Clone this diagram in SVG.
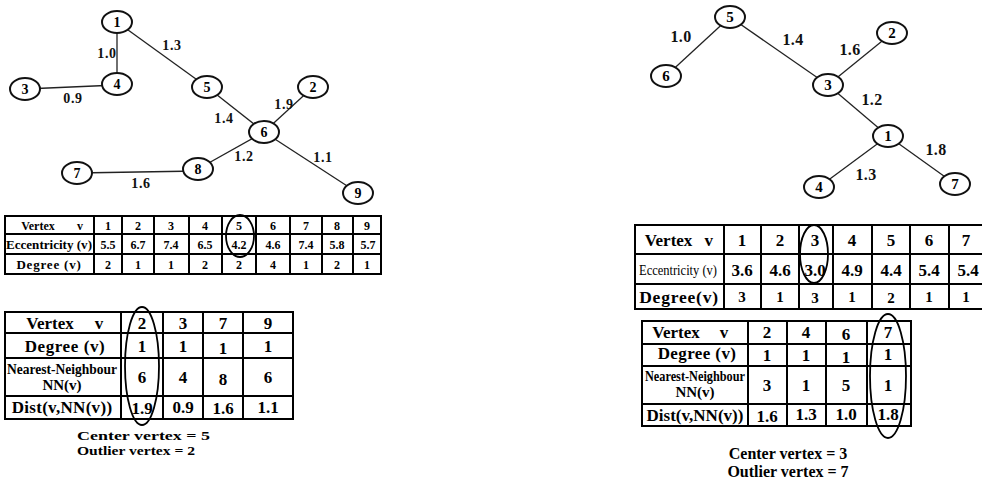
<svg xmlns="http://www.w3.org/2000/svg" width="982" height="483" viewBox="0 0 982 483">
<style>
  .bg{fill:#fff}
  .edge{stroke:#222;stroke-width:1.3;fill:none}
  .node ellipse{fill:#fff;stroke:#111;stroke-width:2}
  .nl{font-family:"Liberation Serif","Times New Roman",serif;font-weight:bold;fill:#000;text-anchor:middle}
  .el{font-family:"Liberation Serif","Times New Roman",serif;font-weight:bold;fill:#111;text-anchor:middle}
  .grid{stroke:#000;stroke-width:2;fill:none}
  .tt{font-family:"Liberation Serif","Times New Roman",serif;font-weight:bold;fill:#000;text-anchor:middle}
  .tn{font-family:"Liberation Serif","Times New Roman",serif;font-weight:normal;fill:#000;text-anchor:middle}
  .mark{fill:none;stroke:#000;stroke-width:1.8}
</style>
<rect class="bg" x="0" y="0" width="982" height="483"/>

<!-- ===== Left tree ===== -->
<g id="left-edges">
  <line class="edge" x1="117" y1="22" x2="117" y2="83"/>
  <line class="edge" x1="117" y1="22" x2="207" y2="87"/>
  <line class="edge" x1="25" y1="89" x2="117" y2="85"/>
  <line class="edge" x1="207" y1="87" x2="264" y2="132"/>
  <line class="edge" x1="313" y1="87" x2="264" y2="132"/>
  <line class="edge" x1="264" y1="132" x2="198" y2="169"/>
  <line class="edge" x1="264" y1="132" x2="358" y2="193"/>
  <line class="edge" x1="77" y1="173" x2="198" y2="171"/>
  <g class="el" font-size="14" letter-spacing="0.6">
    <text x="107" y="58">1.0</text>
    <text x="172" y="50">1.3</text>
    <text x="73" y="103">0.9</text>
    <text x="284" y="109">1.9</text>
    <text x="224" y="123">1.4</text>
    <text x="244" y="161">1.2</text>
    <text x="323" y="162">1.1</text>
    <text x="141" y="188">1.6</text>
  </g>
</g>
<g id="L1" class="node"><ellipse cx="117" cy="22" rx="15" ry="11"/><text class="nl" x="117" y="27" font-size="14">1</text></g>
<g id="L2" class="node"><ellipse cx="313" cy="87" rx="15" ry="11"/><text class="nl" x="313" y="92" font-size="14">2</text></g>
<g id="L3" class="node"><ellipse cx="25" cy="89" rx="15" ry="11"/><text class="nl" x="25" y="94" font-size="14">3</text></g>
<g id="L4" class="node"><ellipse cx="117" cy="84" rx="15" ry="11"/><text class="nl" x="117" y="89" font-size="14">4</text></g>
<g id="L5" class="node"><ellipse cx="207" cy="87" rx="15" ry="11"/><text class="nl" x="207" y="92" font-size="14">5</text></g>
<g id="L6" class="node"><ellipse cx="264" cy="132" rx="15" ry="11"/><text class="nl" x="264" y="137" font-size="14">6</text></g>
<g id="L7" class="node"><ellipse cx="77" cy="173" rx="15" ry="11"/><text class="nl" x="77" y="178" font-size="14">7</text></g>
<g id="L8" class="node"><ellipse cx="198" cy="169" rx="15" ry="11"/><text class="nl" x="198" y="174" font-size="14">8</text></g>
<g id="L9" class="node"><ellipse cx="358" cy="193" rx="15" ry="11"/><text class="nl" x="358" y="198" font-size="14">9</text></g>

<!-- ===== Left eccentricity table ===== -->
<g id="left-ecc-table">
  <rect class="grid" x="5" y="216" width="376" height="58"/>
  <path class="grid" d="M5 234H381M5 254H381M94 216V274M122 216V274M154 216V274M189 216V274M222 216V274M256 216V274M290 216V274M322 216V274M353 216V274"/>
  <g class="tt" font-size="12">
    <text x="38" y="230">Vertex</text><text x="80" y="230">v</text>
    <text x="49" y="249" font-size="12.5" textLength="86" lengthAdjust="spacingAndGlyphs">Eccentricity (v)</text>
    <text x="49" y="269" font-size="13" letter-spacing="0.8">Degree (v)</text>
    <text x="108" y="230">1</text><text x="138" y="230">2</text><text x="171" y="230">3</text><text x="205" y="230">4</text><text x="239" y="230">5</text><text x="273" y="230">6</text><text x="306" y="230">7</text><text x="337" y="230">8</text><text x="367" y="230">9</text>
    <text x="108" y="249">5.5</text><text x="138" y="249">6.7</text><text x="171" y="249">7.4</text><text x="205" y="249">6.5</text><text x="239" y="249">4.2</text><text x="273" y="249">4.6</text><text x="306" y="249">7.4</text><text x="337" y="249">5.8</text><text x="368" y="249">5.7</text>
    <text x="108" y="269">2</text><text x="138" y="269">1</text><text x="171" y="269">1</text><text x="205" y="269">2</text><text x="239" y="269">2</text><text x="273" y="269">4</text><text x="306" y="269">1</text><text x="337" y="269">2</text><text x="367" y="269">1</text>
  </g>
  <ellipse class="mark" cx="240" cy="236" rx="14" ry="21"/>
</g>

<!-- ===== Left nearest-neighbour table ===== -->
<g id="left-nn-table">
  <rect class="grid" x="5" y="312" width="288" height="107"/>
  <path class="grid" d="M5 333H293M5 358H293M5 396H293M121 312V419M163 312V419M203 312V419M243 312V419"/>
  <g class="tt" font-size="17">
    <text x="50" y="329">Vertex</text><text x="99" y="329">v</text>
    <text x="65" y="352" letter-spacing="0.6">Degree (v)</text>
    <text x="62" y="374" font-size="15" textLength="110" lengthAdjust="spacingAndGlyphs">Nearest-Neighbour</text>
    <text x="62" y="390" font-size="15">NN(v)</text>
    <text x="62" y="413" letter-spacing="0.3">Dist(v,NN(v))</text>
    <text x="142" y="329">2</text><text x="183" y="329">3</text><text x="223" y="329">7</text><text x="268" y="329">9</text>
    <text x="142" y="352">1</text><text x="183" y="352">1</text><text x="223" y="354">1</text><text x="268" y="352">1</text>
    <text x="142" y="383">6</text><text x="183" y="383">4</text><text x="223" y="385">8</text><text x="268" y="383">6</text>
    <text x="142" y="414">1.9</text><text x="183" y="413">0.9</text><text x="223" y="414">1.6</text><text x="268" y="413">1.1</text>
  </g>
  <ellipse class="mark" cx="142" cy="366" rx="17" ry="59"/>
</g>
<g id="left-summary" class="tt" font-size="13.5">
  <text x="77" y="440" text-anchor="start" textLength="133" lengthAdjust="spacingAndGlyphs">Center vertex = 5</text>
  <text x="77" y="455" text-anchor="start" textLength="118" lengthAdjust="spacingAndGlyphs">Outlier vertex = 2</text>
</g>

<!-- ===== Right tree ===== -->
<g id="right-edges">
  <line class="edge" x1="730" y1="17" x2="666" y2="76"/>
  <line class="edge" x1="730" y1="17" x2="828" y2="85"/>
  <line class="edge" x1="892" y1="33" x2="828" y2="85"/>
  <line class="edge" x1="828" y1="85" x2="888" y2="136"/>
  <line class="edge" x1="888" y1="136" x2="819" y2="187"/>
  <line class="edge" x1="888" y1="136" x2="955" y2="184"/>
  <g class="el" font-size="16" letter-spacing="0.3">
    <text x="681" y="42">1.0</text>
    <text x="793" y="45">1.4</text>
    <text x="850" y="55">1.6</text>
    <text x="872" y="105">1.2</text>
    <text x="936" y="155">1.8</text>
    <text x="866" y="180">1.3</text>
  </g>
</g>
<g id="R5" class="node"><ellipse cx="730" cy="17" rx="15" ry="11"/><text class="nl" x="730" y="22" font-size="15">5</text></g>
<g id="R6" class="node"><ellipse cx="666" cy="76" rx="15" ry="11"/><text class="nl" x="666" y="81" font-size="15">6</text></g>
<g id="R2" class="node"><ellipse cx="892" cy="33" rx="15" ry="11"/><text class="nl" x="892" y="38" font-size="15">2</text></g>
<g id="R3" class="node"><ellipse cx="828" cy="85" rx="15" ry="11"/><text class="nl" x="828" y="90" font-size="15">3</text></g>
<g id="R1" class="node"><ellipse cx="888" cy="136" rx="15" ry="11"/><text class="nl" x="888" y="141" font-size="15">1</text></g>
<g id="R4" class="node"><ellipse cx="819" cy="187" rx="15" ry="11"/><text class="nl" x="819" y="192" font-size="15">4</text></g>
<g id="R7" class="node"><ellipse cx="955" cy="184" rx="15" ry="11"/><text class="nl" x="955" y="189" font-size="15">7</text></g>

<!-- ===== Right eccentricity table ===== -->
<g id="right-ecc-table">
  <rect class="grid" x="635" y="225" width="360" height="84"/>
  <path class="grid" d="M635 254H995M635 284H995M724 225V309M761 225V309M799 225V309M833 225V309M872 225V309M910 225V309M949 225V309"/>
  <g class="tt" font-size="17">
    <text x="679" y="246" word-spacing="8">Vertex v</text>
    <text x="679" y="303" font-size="17.5" letter-spacing="0.8">Degree(v)</text>
    <text x="742" y="246">1</text><text x="780" y="246">2</text><text x="815" y="246">3</text><text x="852" y="246">4</text><text x="891" y="246">5</text><text x="929" y="246">6</text><text x="966" y="246">7</text>
    <text x="742" y="276">3.6</text><text x="780" y="276">4.6</text><text x="815" y="276">3.0</text><text x="852" y="276">4.9</text><text x="891" y="276">4.4</text><text x="929" y="276">5.4</text><text x="968" y="276">5.4</text>
    <text x="742" y="302" font-size="15">3</text><text x="780" y="302" font-size="15">1</text><text x="815" y="303" font-size="15">3</text><text x="852" y="302" font-size="15">1</text><text x="891" y="303" font-size="15">2</text><text x="929" y="302" font-size="15">1</text><text x="966" y="302" font-size="15">1</text>
  </g>
  <text class="tn" x="678" y="275" font-size="15" textLength="78" lengthAdjust="spacingAndGlyphs">Eccentricity (v)</text>
  <ellipse class="mark" cx="814" cy="254" rx="14" ry="29"/>
</g>

<!-- ===== Right nearest-neighbour table ===== -->
<g id="right-nn-table">
  <rect class="grid" x="642" y="321" width="269" height="105"/>
  <path class="grid" d="M642 344H911M642 366H911M642 404H911M748 321V426M787 321V426M826 321V426M867 321V426"/>
  <g class="tt" font-size="17">
    <text x="676" y="338">Vertex</text><text x="724" y="338">v</text>
    <text x="697" y="359" letter-spacing="0.4">Degree (v)</text>
    <text x="695" y="381" font-size="14" textLength="100" lengthAdjust="spacingAndGlyphs">Nearest-Neighbour</text>
    <text x="695" y="397" font-size="15">NN(v)</text>
    <text x="695" y="421">Dist(v,NN(v))</text>
    <text x="767" y="338">2</text><text x="806" y="338">4</text><text x="846" y="340">6</text><text x="888" y="338">7</text>
    <text x="767" y="361">1</text><text x="806" y="361">1</text><text x="846" y="363">1</text><text x="888" y="360">1</text>
    <text x="767" y="391">3</text><text x="806" y="391">1</text><text x="846" y="391">5</text><text x="888" y="391">1</text>
    <text x="767" y="422">1.6</text><text x="806" y="420">1.3</text><text x="846" y="420">1.0</text><text x="888" y="420">1.8</text>
  </g>
  <ellipse class="mark" cx="888" cy="376" rx="18" ry="62"/>
</g>
<g id="right-summary" class="tt" font-size="16">
  <text x="788" y="459">Center vertex = 3</text>
  <text x="788" y="477">Outlier vertex = 7</text>
</g>
</svg>
